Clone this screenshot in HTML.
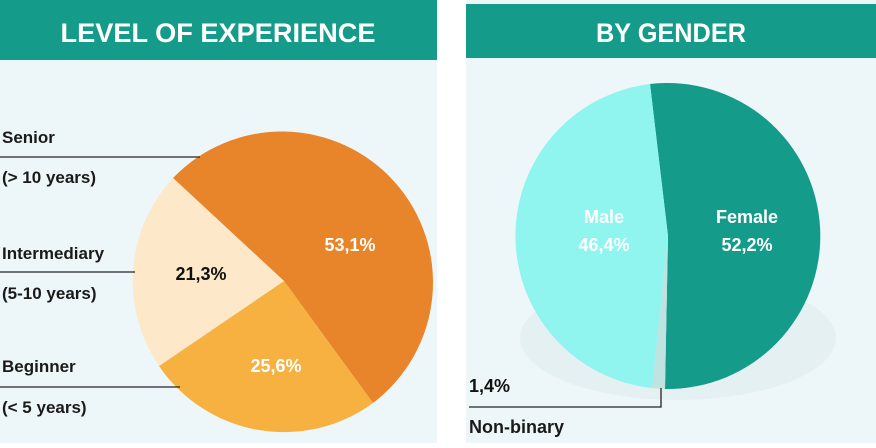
<!DOCTYPE html>
<html><head><meta charset="utf-8"><style>
body{margin:0;width:876px;height:443px;background:#fff;overflow:hidden;font-family:"Liberation Sans",sans-serif}
</style></head><body>
<svg width="876" height="443" xmlns="http://www.w3.org/2000/svg" font-family="Liberation Sans, sans-serif">
<rect x="0" y="0" width="437" height="443" fill="#edf7f9"/>
<rect x="466" y="0" width="410" height="443" fill="#edf7f9"/>
<rect x="0" y="0" width="437" height="60" fill="#159b8a"/>
<rect x="466" y="4" width="410" height="54" fill="#159b8a"/>
<text x="218" y="42" text-anchor="middle" fill="#fff" font-size="27" font-weight="bold" textLength="315" lengthAdjust="spacingAndGlyphs">LEVEL OF EXPERIENCE</text>
<text x="671" y="42" text-anchor="middle" fill="#fff" font-size="27" font-weight="bold" textLength="150" lengthAdjust="spacingAndGlyphs">BY GENDER</text>
<!-- left pie -->
<path d="M284,281 L173,178 A151,151 0 1 1 373,403 Z" fill="#e8842a"/>
<path d="M284,281 L373,403 A151,151 0 0 1 159,366 Z" fill="#f6b140"/>
<path d="M284,281 L159,366 A151,151 0 0 1 173,178 Z" fill="#fde9c9"/>
<g stroke="#222" stroke-width="1.3">
<line x1="0" y1="157" x2="200" y2="157"/>
<line x1="0" y1="272" x2="135" y2="272"/>
<line x1="0" y1="387" x2="180" y2="387"/>
</g>
<g font-size="17" fill="#1a1a1a" font-weight="bold">
<text x="2" y="143">Senior</text>
<text x="2" y="183">(&gt; 10 years)</text>
<text x="2" y="259">Intermediary</text>
<text x="2" y="299">(5-10 years)</text>
<text x="2" y="372">Beginner</text>
<text x="2" y="413">(&lt; 5 years)</text>
</g>
<g font-size="18" font-weight="bold" text-anchor="middle">
<text x="350" y="251" fill="#fff">53,1%</text>
<text x="201" y="280" fill="#111">21,3%</text>
<text x="276" y="372" fill="#fff">25,6%</text>
</g>
<!-- right pie -->
<ellipse cx="678" cy="338" rx="158" ry="62" fill="#e5f0f2"/>
<path d="M668,236 L650,84 A153,153 0 1 1 665,389 Z" fill="#159b8a"/>
<path d="M668,236 L665,389 A153,153 0 0 1 652,388 Z" fill="#bfe3e0"/>
<path d="M668,236 L652,388 A153,153 0 0 1 650,84 Z" fill="#8ff5ee"/>
<g font-size="18" font-weight="bold" text-anchor="middle" fill="#fff">
<text x="604" y="223">Male</text>
<text x="604" y="251">46,4%</text>
<text x="747" y="223">Female</text>
<text x="747" y="251">52,2%</text>
</g>
<path d="M469,407 L661,407 L661,388" fill="none" stroke="#222" stroke-width="1.3"/>
<text x="469" y="392" font-size="18" font-weight="bold" fill="#111">1,4%</text>
<text x="469" y="433" font-size="18" font-weight="bold" fill="#1a1a1a">Non-binary</text>
</svg>
</body></html>
